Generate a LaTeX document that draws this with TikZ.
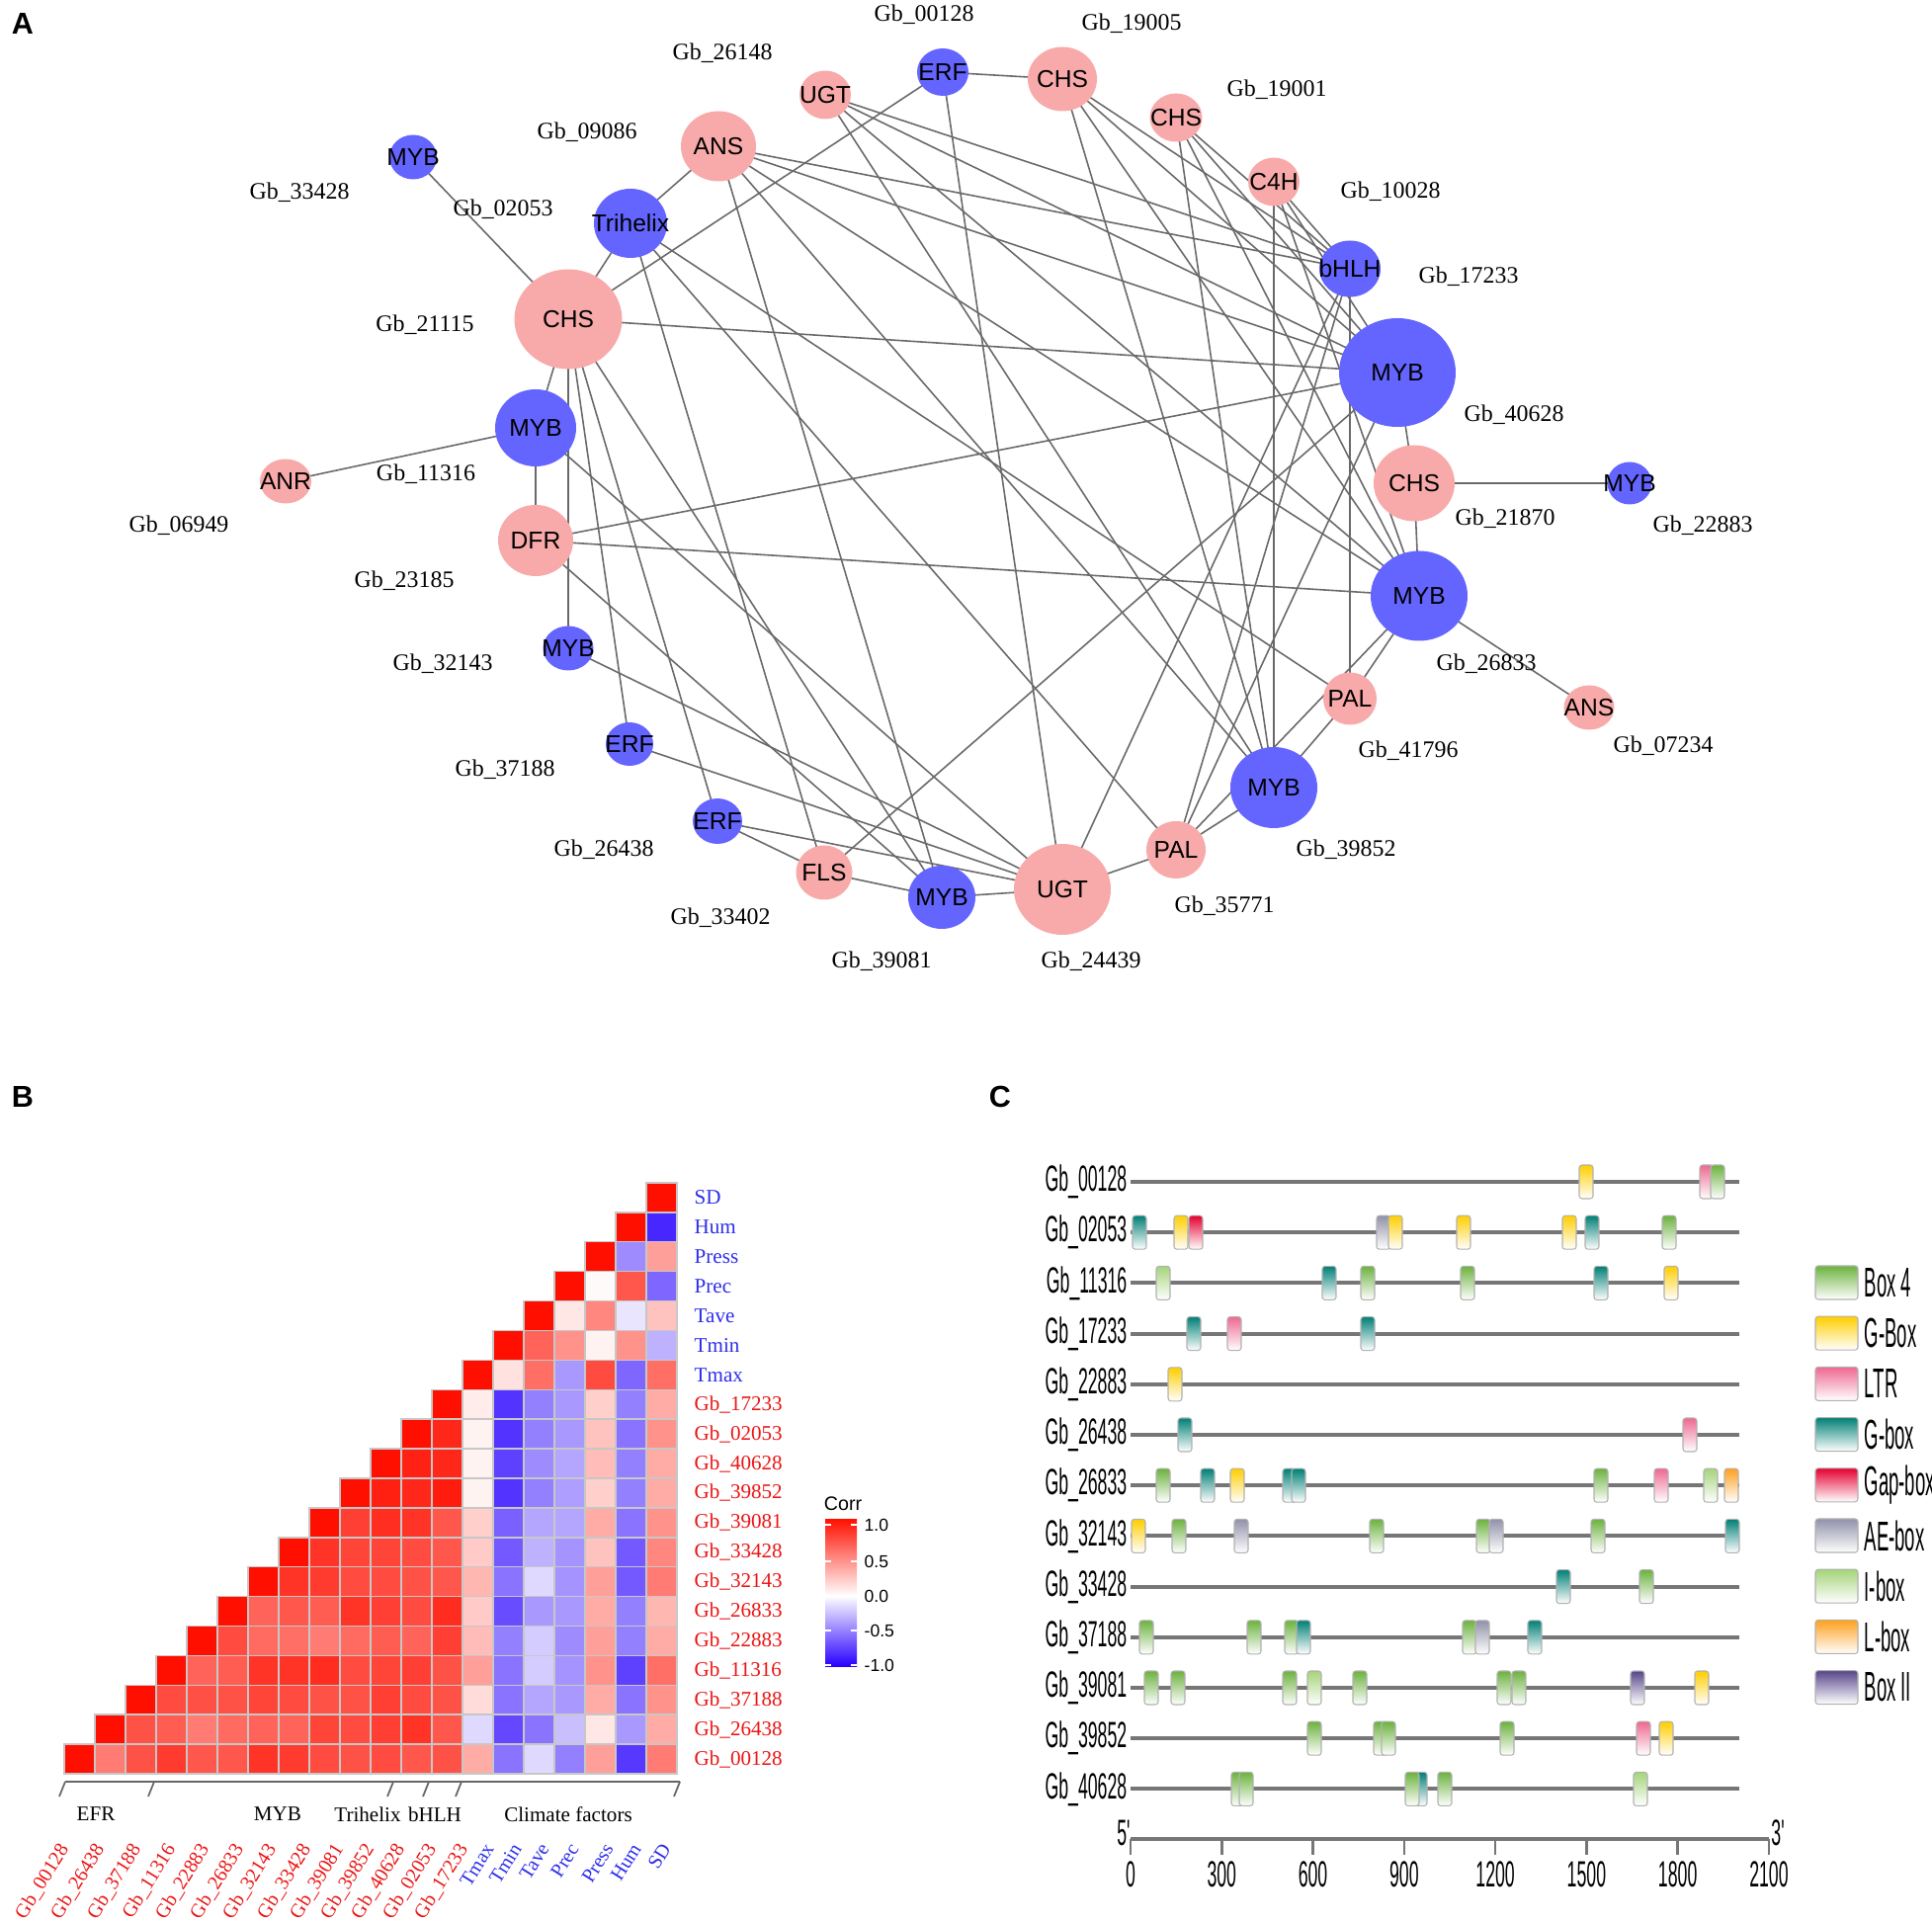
\documentclass[tikz,border=0pt]{standalone}
\usepackage{fontspec}
\setmainfont{Liberation Serif}
\newfontfamily\arialfont{Liberation Sans}
\usepackage{graphicx}
\usetikzlibrary{shapes.geometric, backgrounds}

\definecolor{pinknode}{RGB}{248,170,170}
\definecolor{bluenode}{RGB}{100,100,255}
\definecolor{edgegray}{RGB}{105,105,105}
\definecolor{cpos}{RGB}{255,15,0}
\definecolor{cneg}{RGB}{40,0,255}
\definecolor{genered}{RGB}{235,20,20}
\definecolor{climblue}{RGB}{45,45,235}
\definecolor{linegray}{RGB}{118,118,118}
\definecolor{cBoxfour}{RGB}{108,178,62}
\definecolor{cGBoxY}{RGB}{255,206,0}
\definecolor{cLTR}{RGB}{238,104,145}
\definecolor{cGboxT}{RGB}{0,128,118}
\definecolor{cGap}{RGB}{228,0,48}
\definecolor{cAE}{RGB}{145,145,170}
\definecolor{cIbox}{RGB}{165,212,122}
\definecolor{cLbox}{RGB}{255,160,30}
\definecolor{cBoxII}{RGB}{88,70,138}

\newcommand{\nlab}[1]{\makebox[0pt]{\raisebox{-0.36em}[0pt][0pt]{#1}}}
\newcommand{\narrowtxt}[2][0.48]{\scalebox{#1}[1]{#2}}

\begin{document}
\begin{tikzpicture}[x=0.1mm, y=-0.1mm,
  gene/.style={ellipse, inner sep=0pt, font=\arialfont\fontsize{7}{8}\selectfont},
  pk/.style={gene, fill=pinknode},
  bl/.style={gene, fill=bluenode},
  sz/.style 2 args={minimum width=#1*0.1mm, minimum height=#2*0.1mm},
  gb/.style={font=\fontsize{6.8}{8}\selectfont, inner sep=0pt},
  edge/.style={draw=edgegray, line width=0.45pt},
  panel/.style={font=\arialfont\bfseries\fontsize{8.7}{10}\selectfont, inner sep=0pt},
  hlab/.style={font=\fontsize{6}{7}\selectfont, inner sep=0pt},
  collab/.style={font=\fontsize{5.7}{6}\selectfont, inner sep=0pt, rotate=58, anchor=north east},
  cell/.style={draw=black!22, line width=0.4pt},
  cbar/.style={font=\arialfont\fontsize{5}{6}\selectfont, inner sep=0pt},
  glab/.style={font=\arialfont\fontsize{10.5}{11}\selectfont, inner sep=0pt},
  legtxt/.style={font=\arialfont\fontsize{12}{13}\selectfont, inner sep=0pt},
  geneline/.style={draw=linegray, line width=1.1pt},
  elem/.style={draw=black!30, line width=0.3pt, rounded corners=0.8pt, top color=#1, bottom color=white}
]
\useasboundingbox (0,0) rectangle (1955,1945);

% panel letters
\node[panel] (pA) at (23,24) {A};
\node[panel] (pB) at (23,1110) {B};
\node[panel] (pC) at (1012,1110) {C};

% ---- A: co-expression network ----
\node[bl, sz={52}{48}]   (n00128) at (954,73)   {\nlab{ERF}};
\node[pk, sz={70}{65}]   (n19005) at (1075,80)  {\nlab{CHS}};
\node[pk, sz={53}{49}]   (n19001) at (1190,119) {\nlab{CHS}};
\node[pk, sz={52}{49}]   (n10028) at (1289,184) {\nlab{C4H}};
\node[bl, sz={62}{57}]   (n17233) at (1366,272) {\nlab{bHLH}};
\node[bl, sz={118}{110}] (n40628) at (1414,377) {\nlab{MYB}};
\node[pk, sz={82}{77}]   (n21870) at (1431,489) {\nlab{CHS}};
\node[bl, sz={45}{43}]   (n22883) at (1649,489) {\nlab{MYB}};
\node[bl, sz={98}{91}]   (n26833) at (1436,603) {\nlab{MYB}};
\node[pk, sz={51}{45}]   (n07234) at (1608,716) {\nlab{ANS}};
\node[pk, sz={54}{53}]   (n41796) at (1366,707) {\nlab{PAL}};
\node[bl, sz={88}{82}]   (n39852) at (1289,797) {\nlab{MYB}};
\node[pk, sz={60}{58}]   (n35771) at (1190,860) {\nlab{PAL}};
\node[pk, sz={98}{92}]   (n24439) at (1075,900) {\nlab{UGT}};
\node[bl, sz={68}{64}]   (n39081) at (953,908)  {\nlab{MYB}};
\node[pk, sz={57}{55}]   (n33402) at (834,883)  {\nlab{FLS}};
\node[bl, sz={50}{46}]   (n26438) at (726,831)  {\nlab{ERF}};
\node[bl, sz={48}{44}]   (n37188) at (637,753)  {\nlab{ERF}};
\node[bl, sz={51}{45}]   (n32143) at (575,656)  {\nlab{MYB}};
\node[pk, sz={76}{72}]   (n23185) at (542,547)  {\nlab{DFR}};
\node[bl, sz={82}{78}]   (n11316) at (542,433)  {\nlab{MYB}};
\node[pk, sz={52}{45}]   (n06949) at (289,487)  {\nlab{ANR}};
\node[pk, sz={109}{101}] (n21115) at (575,323)  {\nlab{CHS}};
\node[bl, sz={48}{45}]   (n33428) at (418,159)  {\nlab{MYB}};
\node[bl, sz={74}{70}]   (n02053) at (638,226)  {\nlab{Trihelix}};
\node[pk, sz={76}{71}]   (n09086) at (727,148)  {\nlab{ANS}};
\node[pk, sz={52}{49}]   (n26148) at (835,96)   {\nlab{UGT}};

\begin{scope}[on background layer]
\foreach \a/\b in {00128/19005, 00128/21115, 00128/24439,
  02053/09086, 02053/21115, 02053/41796, 02053/35771, 02053/33402,
  33428/21115, 11316/21115, 11316/06949, 11316/23185, 11316/24439,
  32143/21115, 32143/24439, 37188/21115, 37188/24439,
  26438/21115, 26438/33402, 26438/24439,
  39081/33402, 39081/24439, 39081/21115, 39081/09086, 39081/23185,
  17233/26148, 17233/09086, 17233/19005, 17233/19001, 17233/10028,
  17233/41796, 17233/35771, 17233/24439,
  40628/21115, 40628/09086, 40628/26148, 40628/23185, 40628/33402,
  40628/21870, 40628/19005, 40628/19001, 40628/10028, 40628/35771,
  22883/21870,
  26833/09086, 26833/26148, 26833/23185, 26833/21870, 26833/07234,
  26833/41796, 26833/35771, 26833/19005, 26833/19001, 26833/10028,
  39852/09086, 39852/26148, 39852/19005, 39852/19001, 39852/10028,
  39852/41796, 39852/35771, 24439/35771}
  \draw[edge] (n\a.center) -- (n\b.center);
\end{scope}

% gene ids
\foreach \g/\lx/\ly in {00128/935/15, 19005/1145/24, 19001/1292/91,
  10028/1407/194, 17233/1486/280, 40628/1532/420, 21870/1523/525,
  22883/1723/532, 26833/1504/672, 07234/1683/755, 41796/1425/760,
  39852/1362/860, 35771/1239/917, 24439/1104/973, 39081/892/973,
  33402/729/929, 26438/611/860, 37188/511/779, 32143/448/672,
  23185/409/588, 11316/431/480, 06949/181/532, 21115/430/329,
  33428/303/195, 02053/509/212, 09086/594/134, 26148/731/54}
  \node[gb] (l\g) at (\lx,\ly) {Gb\_\g};

% ---- B: correlation triangle ----
\foreach \r/\vals in {
  19/{1},
  18/{1,-0.85},
  17/{1,-0.45,0.4},
  16/{1,0.02,0.7,-0.6},
  15/{1,0.1,0.5,-0.1,0.25},
  14/{1,0.65,0.45,0.05,0.45,-0.3},
  13/{1,0.12,0.6,-0.4,0.75,-0.6,0.6},
  12/{1,0.08,-0.8,-0.5,-0.4,0.2,-0.5,0.35},
  11/{1,0.9,0.05,-0.8,-0.5,-0.4,0.25,-0.55,0.45},
  10/{1,0.92,0.9,0.05,-0.75,-0.45,-0.35,0.28,-0.5,0.35},
  9/{1,0.93,0.9,0.95,0.05,-0.8,-0.5,-0.38,0.2,-0.5,0.35},
  8/{1,0.8,0.87,0.85,0.7,0.2,-0.62,-0.35,-0.35,0.35,-0.55,0.45},
  7/{1,0.85,0.78,0.78,0.75,0.7,0.22,-0.65,-0.3,-0.42,0.25,-0.65,0.5},
  6/{1,0.85,0.82,0.75,0.75,0.72,0.7,0.3,-0.55,-0.15,-0.42,0.4,-0.65,0.55},
  5/{1,0.65,0.7,0.68,0.85,0.8,0.75,0.88,0.22,-0.7,-0.4,-0.4,0.35,-0.5,0.3},
  4/{1,0.75,0.62,0.6,0.55,0.62,0.68,0.65,0.8,0.28,-0.5,-0.2,-0.45,0.4,-0.5,0.35},
  3/{1,0.65,0.68,0.85,0.85,0.88,0.75,0.78,0.8,0.72,0.4,-0.55,-0.2,-0.42,0.45,-0.75,0.6},
  2/{1,0.75,0.73,0.72,0.78,0.75,0.72,0.72,0.8,0.75,0.72,0.15,-0.55,-0.35,-0.4,0.35,-0.55,0.45},
  1/{1,0.72,0.68,0.55,0.62,0.65,0.65,0.78,0.75,0.8,0.85,0.7,-0.15,-0.72,-0.55,-0.25,0.1,-0.4,0.35},
  0/{1,0.55,0.72,0.82,0.7,0.7,0.85,0.82,0.75,0.72,0.75,0.7,0.72,0.35,-0.55,-0.15,-0.5,0.4,-0.78,0.55}}
{
  \foreach \v [count=\k from 0] in \vals {
    \pgfmathsetmacro\pc{abs(\v)*100}
    \ifdim\v pt<0pt \colorlet{cellc}{cneg!\pc!white}\else\colorlet{cellc}{cpos!\pc!white}\fi
    \pgfmathsetmacro\cx{65+31*(\r+\k)}
    \pgfmathsetmacro\cy{1197+29.9*(19-\r)}
    \filldraw[cell, fill=cellc] (\cx,\cy) rectangle ++(31,29.9);
  }
}

% row names
\foreach \lab/\col [count=\t from 0] in {SD/climblue, Hum/climblue, Press/climblue,
  Prec/climblue, Tave/climblue, Tmin/climblue, Tmax/climblue,
  Gb\_17233/genered, Gb\_02053/genered, Gb\_40628/genered, Gb\_39852/genered,
  Gb\_39081/genered, Gb\_33428/genered, Gb\_32143/genered, Gb\_26833/genered,
  Gb\_22883/genered, Gb\_11316/genered, Gb\_37188/genered, Gb\_26438/genered,
  Gb\_00128/genered}
  \node[hlab, anchor=west, text=\col] (rl\t) at (702,{1197+29.9*(\t+0.5)}) {\lab};

% column names
\foreach \lab/\col/\xe [count=\j from 0] in {Gb\_00128/genered/58, Gb\_26438/genered/94,
  Gb\_37188/genered/131, Gb\_11316/genered/166, Gb\_22883/genered/200,
  Gb\_26833/genered/235, Gb\_32143/genered/268, Gb\_33428/genered/303,
  Gb\_39081/genered/336, Gb\_39852/genered/367, Gb\_40628/genered/398,
  Gb\_02053/genered/430, Gb\_17233/genered/462, Tmax/climblue/489,
  Tmin/climblue/517, Tave/climblue/545, Prec/climblue/575,
  Press/climblue/610, Hum/climblue/638, SD/climblue/668}
  \node[collab, text=\col] (cl\j) at (\xe,1863) {\lab};

% groups
\draw[black!60, line width=0.5pt] (66,1803) -- (688,1803);
\foreach \bx in {66,156,398,434,467,688}
  \draw[black!60, line width=0.5pt] (\bx,1803) -- ++(-6,15);
\node[hlab] (grA) at (97,1836) {EFR};
\node[hlab] (grB) at (281,1836) {MYB};
\node[hlab] (grC) at (372,1836) {Trihelix};
\node[hlab] (grD) at (440,1836) {bHLH};
\node[hlab] (grE) at (575,1836) {Climate factors};

% colour key
\node[cbar, font=\arialfont\fontsize{5.6}{6}\selectfont] (ctitle) at (853,1522) {Corr};
\shade[top color=cpos, bottom color=white] (835,1537) rectangle (867,1615);
\shade[top color=white, bottom color=cneg] (835,1615) rectangle (867,1686);
\foreach \val/\vy in {1.0/1543, 0.5/1580, 0.0/1615, -0.5/1650, -1.0/1685} {
  \draw[white, line width=0.5pt] (835,\vy) -- (841,\vy) (861,\vy) -- (867,\vy);
  \node[cbar, anchor=west] (cv\vy) at (874,\vy) {\val};
}

% ---- C: promoter elements ----
\foreach \g [count=\i from 0] in {00128,02053,11316,17233,22883,26438,26833,
  32143,33428,37188,39081,39852,40628} {
  \pgfmathsetmacro\gy{1196+51.2*\i}
  \draw[geneline] (1144,\gy) -- (1760,\gy);
  \node[glab, anchor=east] (gl\g) at (1141,\gy) {\narrowtxt{Gb\_\g}};
}

\foreach \row/\xp/\c in {
  0/1605/cGBoxY, 0/1727/cLTR, 0/1738/cBoxfour,
  1/1153/cGboxT, 1/1195/cGBoxY, 1/1210/cGap, 1/1400/cAE, 1/1412/cGBoxY,
  1/1481/cGBoxY, 1/1588/cGBoxY, 1/1611/cGboxT, 1/1689/cBoxfour,
  2/1177/cIbox, 2/1345/cGboxT, 2/1384/cBoxfour, 2/1485/cBoxfour,
  2/1620/cGboxT, 2/1691/cGBoxY,
  3/1208/cGboxT, 3/1249/cLTR, 3/1384/cGboxT,
  4/1189/cGBoxY,
  5/1199/cGboxT, 5/1710/cLTR,
  6/1177/cBoxfour, 6/1222/cGboxT, 6/1252/cGBoxY, 6/1305/cGboxT, 6/1314/cGboxT,
  6/1620/cBoxfour, 6/1681/cLTR, 6/1731/cIbox, 6/1752/cLbox,
  7/1152/cGBoxY, 7/1193/cBoxfour, 7/1256/cAE, 7/1393/cBoxfour, 7/1501/cBoxfour,
  7/1514/cAE, 7/1617/cBoxfour, 7/1753/cGboxT,
  8/1582/cGboxT, 8/1666/cBoxfour,
  9/1160/cBoxfour, 9/1269/cBoxfour, 9/1307/cBoxfour, 9/1319/cGboxT,
  9/1487/cBoxfour, 9/1500/cAE, 9/1553/cGboxT,
  10/1165/cBoxfour, 10/1192/cBoxfour, 10/1305/cBoxfour, 10/1330/cIbox,
  10/1376/cBoxfour, 10/1522/cBoxfour, 10/1537/cBoxfour, 10/1657/cBoxII,
  10/1722/cGBoxY,
  11/1330/cBoxfour, 11/1397/cBoxfour, 11/1405/cBoxfour, 11/1525/cBoxfour,
  11/1663/cLTR, 11/1686/cGBoxY,
  12/1253/cBoxfour, 12/1261/cBoxfour, 12/1437/cGboxT, 12/1429/cBoxfour,
  12/1462/cBoxfour, 12/1660/cIbox} {
  \pgfmathsetmacro\ey{1196+51.2*\row}
  \draw[elem=\c] (\xp-7,\ey-17) rectangle (\xp+7,\ey+17);
}

% scale
\draw[geneline] (1144,1861) -- (1790,1861);
\foreach \t in {0,300,...,2100} {
  \pgfmathsetmacro\tx{1144+0.3076*\t}
  \draw[geneline, line width=0.7pt] (\tx,1861) -- (\tx,1877);
  \node[glab] (tk\t) at (\tx,1897) {\narrowtxt{\t}};
}
\node[glab] (five) at (1137,1855) {\narrowtxt{5'}};
\node[glab] (three) at (1799,1855) {\narrowtxt{3'}};

% legend
\foreach \lab/\c [count=\k from 0] in {Box 4/cBoxfour, G-Box/cGBoxY, LTR/cLTR,
  G-box/cGboxT, Gap-box/cGap, AE-box/cAE, I-box/cIbox, L-box/cLbox, Box II/cBoxII} {
  \pgfmathsetmacro\ly{1298+51.2*\k}
  \draw[elem=\c] (1837,\ly-17) rectangle (1880,\ly+17);
  \node[legtxt, anchor=west] (lg\k) at (1886,\ly) {\narrowtxt[0.44]{\lab}};
}
\end{tikzpicture}
\end{document}
